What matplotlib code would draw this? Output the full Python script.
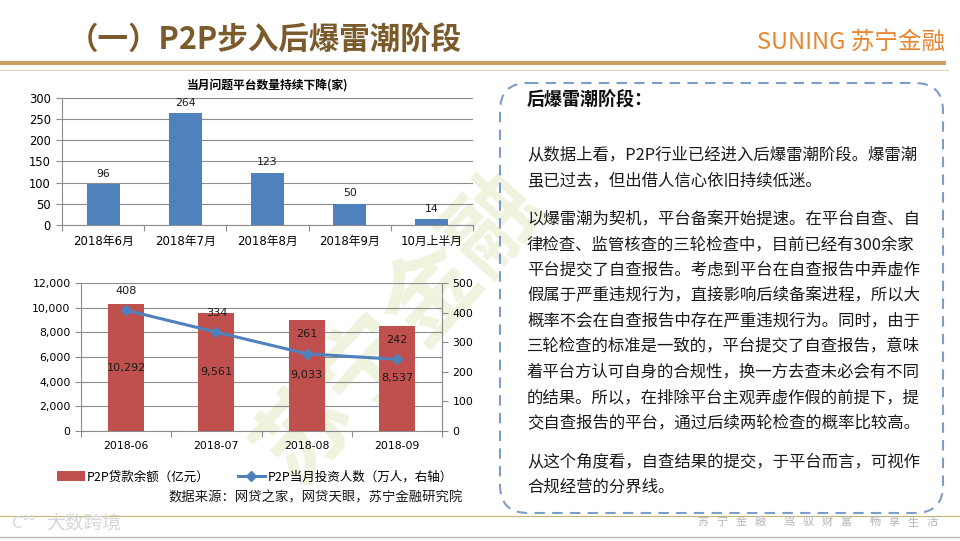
import matplotlib
matplotlib.use('Agg')
import matplotlib.pyplot as plt
import numpy as np
from matplotlib.patches import FancyBboxPatch, Patch
from matplotlib.lines import Line2D
from matplotlib.ticker import FuncFormatter

plt.rcParams['font.family'] = ['Noto Sans CJK SC', 'DejaVu Sans']
plt.rcParams['axes.unicode_minus'] = False

# Data
issue_months = ['2018年6月', '2018年7月', '2018年8月', '2018年9月', '10月上半月']
issue_counts = [96, 264, 123, 50, 14]

loan_months = ['2018-06', '2018-07', '2018-08', '2018-09']
loan_balance = [10292, 9561, 9033, 8537]
investors = [408, 334, 261, 242]

body_lines = [
    '从数据上看，P2P行业已经进入后爆雷潮阶段。爆雷潮',
    '虽已过去，但出借人信心依旧持续低迷。',
    None,
    '以爆雷潮为契机，平台备案开始提速。在平台自查、自',
    '律检查、监管核查的三轮检查中，目前已经有300余家',
    '平台提交了自查报告。考虑到平台在自查报告中弄虚作',
    '假属于严重违规行为，直接影响后续备案进程，所以大',
    '概率不会在自查报告中存在严重违规行为。同时，由于',
    '三轮检查的标准是一致的，平台提交了自查报告，意味',
    '着平台方认可自身的合规性，换一方去查未必会有不同',
    '的结果。所以，在排除平台主观弄虚作假的前提下，提',
    '交自查报告的平台，通过后续两轮检查的概率比较高。',
    None,
    '从这个角度看，自查结果的提交，于平台而言，可视作',
    '合规经营的分界线。',
]

slogan = ['苏宁金融', '驾驭财富', '畅享生活']

W, H = 960, 541
fig = plt.figure(figsize=(9.6, 5.41), dpi=100)

NUM = ['DejaVu Sans', 'Noto Sans CJK SC']   # numbers look like Verdana
NUM_SIZE = 7.8


def rect(l, t, r, b):
    return [l / W, 1 - b / H, (r - l) / W, (b - t) / H]


# background / decoration layer in pixel coordinates
bg = fig.add_axes([0, 0, 1, 1], zorder=0)
bg.set_xlim(0, W)
bg.set_ylim(H, 0)
bg.axis('off')

bg.text(68, 40, '（一）P2P步入后爆雷潮阶段', fontsize=22, fontweight='bold',
        color='#7b5a2b', va='center', ha='left')
bg.text(945, 42, 'SUNING 苏宁金融', fontsize=17, color='#e8852f',
        va='center', ha='right')
bg.plot([0, 946], [62.5, 62.5], color='#c9a062', lw=3, solid_capstyle='butt')
bg.plot([0, 948], [69.5, 69.5], color='#ddd2ba', lw=0.8)
bg.plot([0, 960], [516, 516], color='#c2b56f', lw=0.8)
bg.plot([0, 960], [537, 537], color='#b8b8b8', lw=1.0)
bg.text(46, 523, '大数跨境', fontsize=13.5, color='#d6d6d6', va='center', ha='left')
bg.text(12, 523, 'C°°', fontsize=12, color='#d6d6d6', va='center', ha='left')

# slogan, spaced out char by char
sx = 703
for g, word in enumerate(slogan):
    for ch in word:
        bg.text(sx, 522, ch, fontsize=8, color='#b4b4b4', va='center', ha='center')
        sx += 19
    sx += 10

# watermark
bg.text(400, 328, '苏宁金融', fontsize=68, fontweight='bold', color='#e2eac4',
        alpha=0.55, rotation=48, ha='center', va='center', zorder=0)

# right text box
box = FancyBboxPatch((500, 83), 443, 430, boxstyle='round,pad=0,rounding_size=28',
                     fill=False, edgecolor='#7d9dc8', lw=1.5, linestyle=(0, (5, 3.5)))
bg.add_patch(box)
bg.text(527, 100, '后爆雷潮阶段：', fontsize=13, fontweight='bold', color='#111111',
        va='center', ha='left')
y = 155
for line in body_lines:
    if line is None:
        y += 13
        continue
    bg.text(527, y, line, fontsize=11.8, color='#1a1a1a', va='center', ha='left')
    y += 25.5

grid_col = '#8c8c8c'

# top chart
ax1 = fig.add_axes(rect(62, 98, 473, 225), zorder=2)
ax1.patch.set_alpha(0)
x1 = np.arange(len(issue_months))
bars1 = ax1.bar(x1, issue_counts, width=0.4, color='#4f81bd', zorder=3)
for t in ax1.bar_label(bars1, padding=4, fontsize=NUM_SIZE, color='#1a1a1a'):
    t.set_family(NUM)
ax1.set_xlim(-0.5, len(issue_months) - 0.5)
ax1.set_ylim(0, 300)
ax1.set_yticks(range(0, 301, 50))
ax1.yaxis.grid(True, color=grid_col, lw=0.8)
ax1.set_axisbelow(True)
ax1.set_xticks(np.arange(-0.5, len(issue_months), 1))
ax1.set_xticklabels([])
ax1.set_xticks(x1, minor=True)
ax1.set_xticklabels(issue_months, minor=True, fontsize=8.5, family=NUM)
ax1.tick_params(axis='x', which='major', length=4, color=grid_col)
ax1.tick_params(axis='x', which='minor', length=0, pad=7)
ax1.tick_params(axis='y', length=4, color=grid_col, labelsize=NUM_SIZE + 0.5, pad=4)
for t in ax1.get_yticklabels():
    t.set_family(NUM)
for s in ['top', 'right']:
    ax1.spines[s].set_visible(False)
for s in ['left', 'bottom']:
    ax1.spines[s].set_color(grid_col)
ax1.set_title('当月问题平台数量持续下降(家)', fontsize=8.5, fontweight='bold', pad=7)

# bottom chart
ax2 = fig.add_axes(rect(81, 283, 442, 431), zorder=2)
ax2.patch.set_alpha(0)
x2 = np.arange(len(loan_months))
bars2 = ax2.bar(x2, loan_balance, width=0.4, color='#c0504d', zorder=3)
for t in ax2.bar_label(bars2, labels=[f'{v:,}' for v in loan_balance], label_type='center',
                       fontsize=NUM_SIZE + 0.3, color='#1a1a1a'):
    t.set_family(NUM)
ax2.set_xlim(-0.5, len(loan_months) - 0.5)
ax2.set_ylim(0, 12000)
ax2.set_yticks(range(0, 12001, 2000))
ax2.yaxis.set_major_formatter(FuncFormatter(lambda v, p: f'{int(v):,}'))
ax2.yaxis.grid(True, color=grid_col, lw=0.8)
ax2.set_axisbelow(True)
ax2.set_xticks(np.arange(-0.5, len(loan_months), 1))
ax2.set_xticklabels([])
ax2.set_xticks(x2, minor=True)
ax2.set_xticklabels(loan_months, minor=True, fontsize=NUM_SIZE, family=NUM)
ax2.tick_params(axis='x', which='major', length=4, color=grid_col)
ax2.tick_params(axis='x', which='minor', length=0, pad=7)
ax2.tick_params(axis='y', length=4, color=grid_col, labelsize=NUM_SIZE)
for t in ax2.get_yticklabels():
    t.set_family(NUM)
ax2.spines['top'].set_visible(False)
for s in ['left', 'bottom', 'right']:
    ax2.spines[s].set_color(grid_col)

ax3 = ax2.twinx()
ax3.plot(x2, investors, color='#4f81bd', lw=2.2, marker='D', markersize=5.5, zorder=5)
for xi, v in zip(x2, investors):
    ax3.annotate(str(v), (xi, v), xytext=(0, 14), textcoords='offset points',
                 ha='center', va='center', fontsize=NUM_SIZE + 0.3, color='#1a1a1a',
                 family=NUM)
ax3.set_ylim(0, 500)
ax3.set_yticks(range(0, 501, 100))
ax3.tick_params(axis='y', length=4, color=grid_col, labelsize=NUM_SIZE)
for t in ax3.get_yticklabels():
    t.set_family(NUM)
for s in ['top', 'left', 'bottom']:
    ax3.spines[s].set_visible(False)
ax3.spines['right'].set_color(grid_col)

handles = [Patch(facecolor='#c0504d', edgecolor='none'),
           Line2D([0], [0], color='#4f81bd', lw=2.2, marker='D', markersize=5.5)]
fig.legend(handles, ['P2P贷款余额（亿元）', 'P2P当月投资人数（万人，右轴）'],
           loc='center', bbox_to_anchor=(255 / W, 1 - 477 / H), ncol=2,
           frameon=False, fontsize=9, handlelength=2.2, handleheight=0.9,
           columnspacing=2.2, handletextpad=0.2)
bg.text(463, 497, '数据来源：网贷之家，网贷天眼，苏宁金融研究院', fontsize=9.6,
        style='italic', color='#1a1a1a', ha='right', va='center')

fig.savefig('out.png', dpi=100)
